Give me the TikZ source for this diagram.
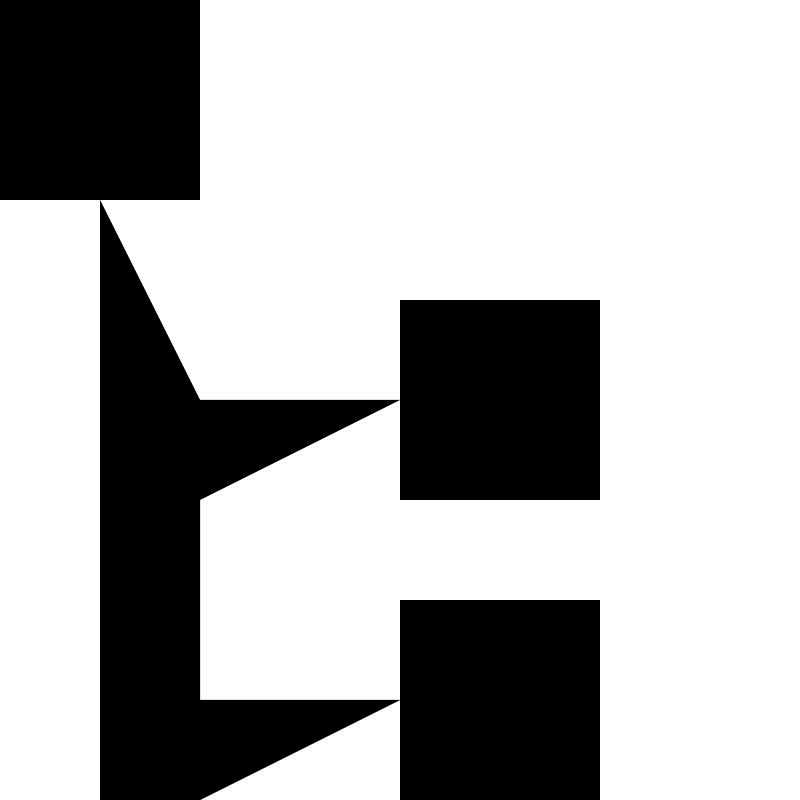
\documentclass[tikz,border=0pt]{standalone}
\begin{document}
\begin{tikzpicture}[
  blk/.style={rectangle, fill=black, draw=none, minimum size=2cm, inner sep=0pt, outer sep=0pt},
  link/.style={fill=black, draw=none}
]
\useasboundingbox (0,0) rectangle (8,8);
\fill[white] (0,0) rectangle (8,8);
\node[blk] (a) at (1,7) {};
\node[blk] (b) at (5,4) {};
\node[blk] (c) at (5,1) {};
\coordinate (k1) at (2,4);
\coordinate (k2) at (2,3);
\coordinate (k3) at (2,1);
\coordinate (k4) at (2,0);
\coordinate (k5) at (1,0);
\fill[link] (a.south) -- (k1) -- (b.west) -- (k2) -- (k3) -- (c.west) -- (k4) -- (k5) -- cycle;
\end{tikzpicture}
\end{document}
